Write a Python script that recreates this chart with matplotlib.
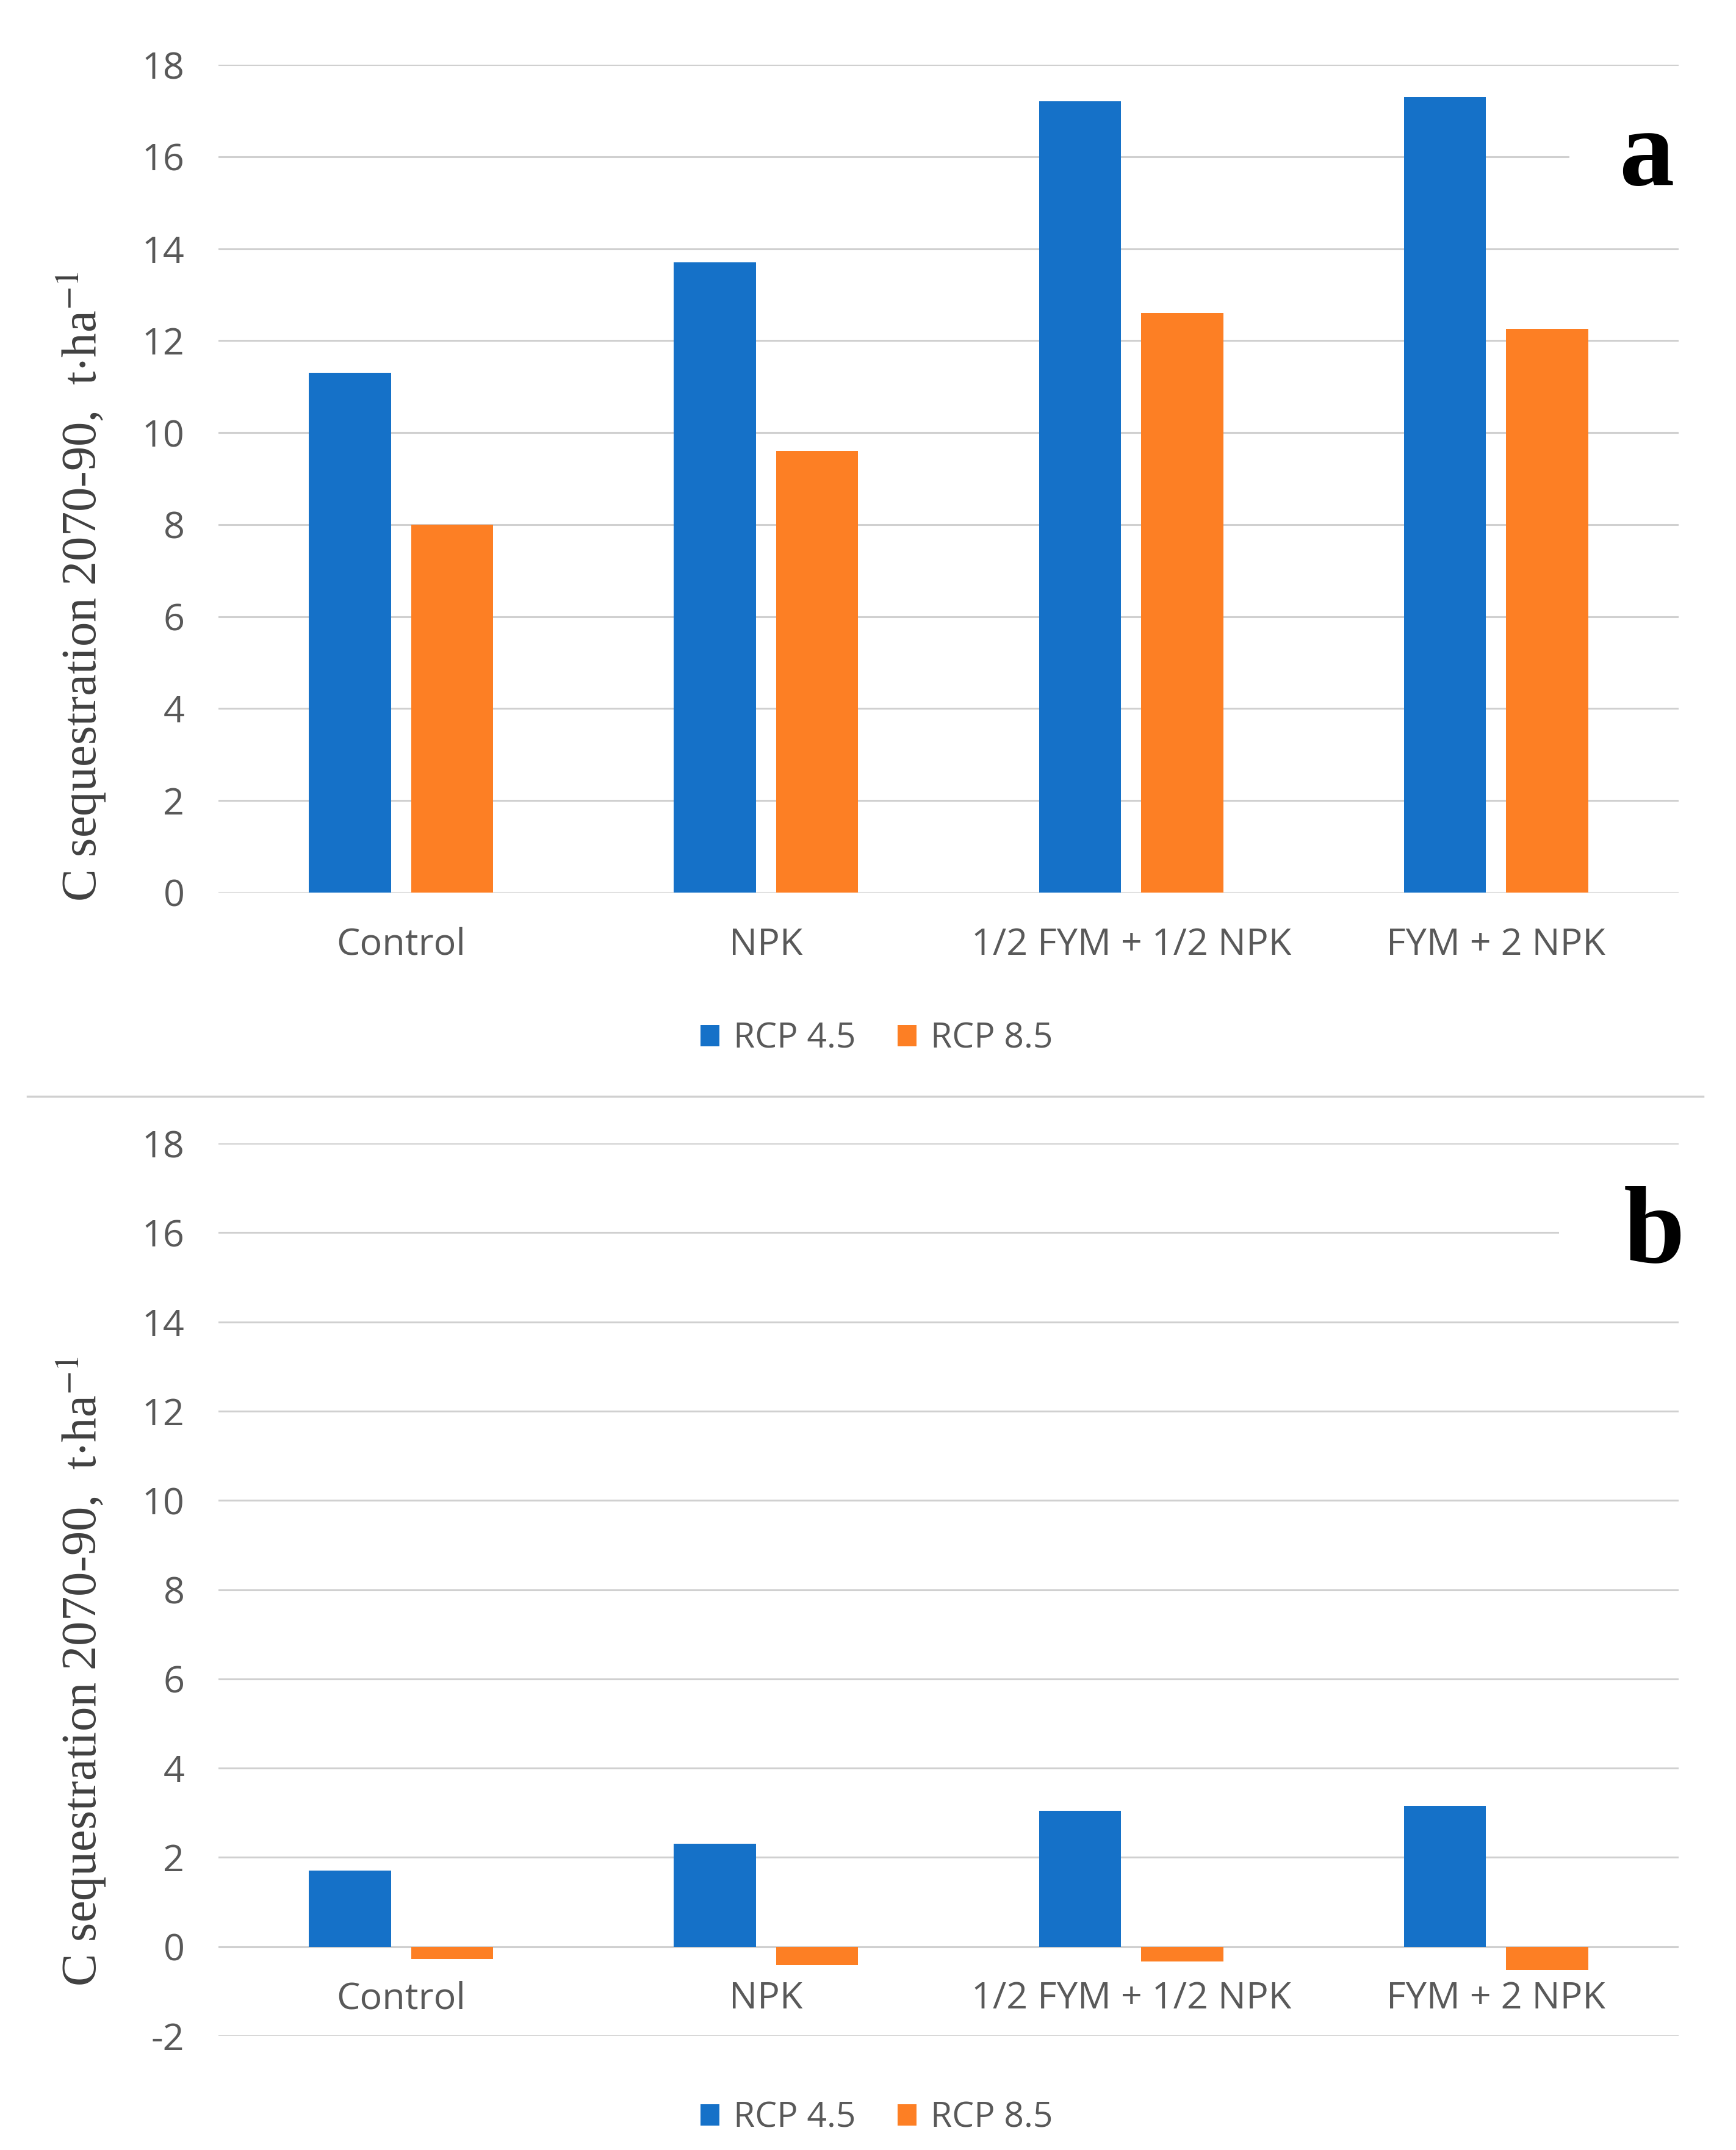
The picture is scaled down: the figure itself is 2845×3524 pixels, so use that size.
import numpy as np
import matplotlib.pyplot as plt
from matplotlib.lines import Line2D
from matplotlib.patches import Rectangle
from matplotlib.transforms import blended_transform_factory

# data
categories = ['Control', 'NPK', '1/2 FYM + 1/2 NPK', 'FYM + 2 NPK']
rcp45_a = [11.3, 13.7, 17.2, 17.3]
rcp85_a = [8.0, 9.6, 12.6, 12.25]
rcp45_b = [1.7, 2.3, 3.05, 3.15]
rcp85_b = [-0.28, -0.42, -0.33, -0.52]
series_names = ['RCP 4.5', 'RCP 8.5']

blue = '#1571c8'
orange = '#fd7f24'
grid_col = '#d0d0d0'
txt_col = '#595959'

W, H = 2845, 3524
fig = plt.figure(figsize=(W / 100, H / 100), dpi=100)

sans = ['Open Sans', 'DejaVu Sans']
serif = ['Liberation Serif', 'DejaVu Serif']
plt.rcParams['mathtext.fontset'] = 'stix'
plt.rcParams['axes.unicode_minus'] = False

x = np.arange(len(categories))
bw = 0.225
off = 0.14


def draw_panel(rect, v45, v85, ylo, letter, letter_x, letter_y, gap_x, ylab_bottom, leg_y):
    ax = fig.add_axes(rect)
    ax.spines['bottom'].set_position(('data', 0))
    for s in ax.spines.values():
        s.set_visible(False)
    ax.bar(x - off, v45, bw, color=blue, label=series_names[0], zorder=3)
    ax.bar(x + off, v85, bw, color=orange, label=series_names[1], zorder=3)
    ax.set_xlim(-0.5, 3.5)
    ax.set_ylim(ylo, 18)
    ax.set_yticks(np.arange(ylo, 19, 2))
    ax.set_xticks(x)
    ax.set_xticklabels(categories, fontsize=44, color=txt_col, family=sans)
    for lab in ax.get_yticklabels():
        lab.set_fontsize(44)
        lab.set_color(txt_col)
        lab.set_family(sans)
    ax.tick_params(axis='y', length=0, pad=40)
    ax.tick_params(axis='x', length=0, pad=40)
    ax.grid(axis='y', color=grid_col, linewidth=2.2, zorder=0)
    # white patch behind the panel letter, breaking the 16 gridline
    tr = blended_transform_factory(ax.transAxes, ax.transData)
    ax.add_patch(Rectangle((gap_x, 15.6), 1.02 - gap_x, 0.8, transform=tr,
                           facecolor='white', edgecolor='none', zorder=2,
                           clip_on=False))
    ax.text(letter_x, letter_y, letter, transform=ax.transAxes, fontsize=130,
            fontweight='bold', family=serif, ha='right', va='center', zorder=5)
    fig.text(134 / W, ylab_bottom, 'C sequestration 2070-90,  t$\\cdot$ha$^{-1}$',
             rotation=90, ha='center', va='bottom', fontsize=58, family=serif,
             color='#404040')
    fig.legend(handles=ax.get_legend_handles_labels()[0], labels=series_names,
               loc='center', bbox_to_anchor=(0.505, leg_y), ncol=2, frameon=False,
               prop={'family': sans, 'size': 41}, labelcolor=txt_col,
               handlelength=0.55, handleheight=0.55, handletextpad=0.4,
               columnspacing=1.2)
    return ax


draw_panel([358 / W, 1 - 1463 / H, (2751 - 358) / W, (1463 - 106) / H],
           rcp45_a, rcp85_a, 0, 'a', 0.997, 0.887, 0.925, 1 - 1478 / H, 1 - 1703 / H)
draw_panel([358 / W, 1 - 3337 / H, (2751 - 358) / W, (3337 - 1874) / H],
           rcp45_b, rcp85_b, -2, 'b', 1.004, 0.897, 0.918, 1 - 3256 / H, 1 - 3472 / H)

fig.add_artist(Line2D([45 / W, 2791 / W], [1 - 1797 / H, 1 - 1797 / H],
                      transform=fig.transFigure, color='#d0d0d0', linewidth=2.5))

fig.savefig('out.png', dpi=100, facecolor='white')
